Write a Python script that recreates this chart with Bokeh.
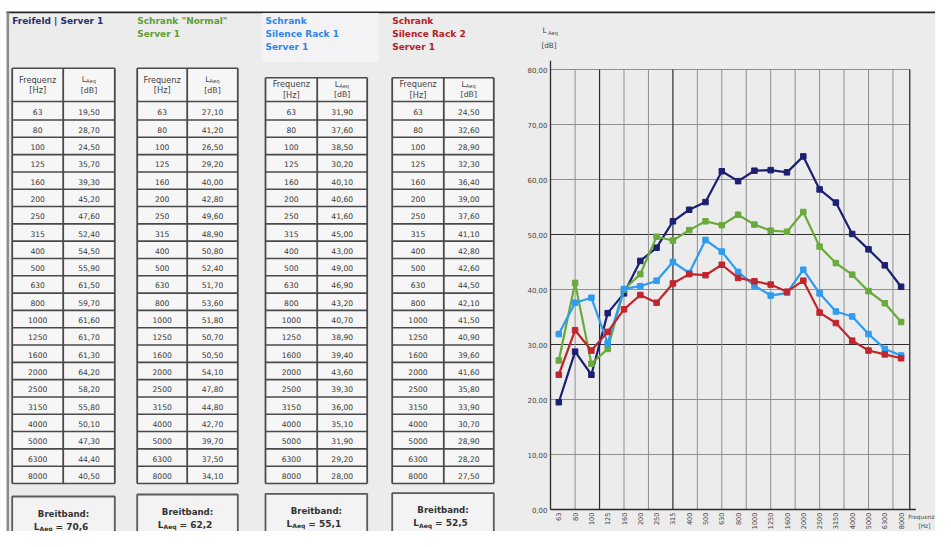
import math
from bokeh.plotting import figure
from bokeh.models import Range1d, FixedTicker
from bokeh.core.properties import value
from bokeh.embed import file_html
from bokeh.resources import INLINE

# ---------------- data ----------------
freqs = ["63", "80", "100", "125", "160", "200", "250", "315", "400", "500", "630",
         "800", "1000", "1250", "1600", "2000", "2500", "3150", "4000", "5000", "6300", "8000"]
freifeld = [19.50, 28.70, 24.50, 35.70, 39.30, 45.20, 47.60, 52.40, 54.50, 55.90, 61.50,
            59.70, 61.60, 61.70, 61.30, 64.20, 58.20, 55.80, 50.10, 47.30, 44.40, 40.50]
normal = [27.10, 41.20, 26.50, 29.20, 40.00, 42.80, 49.60, 48.90, 50.80, 52.40, 51.70,
          53.60, 51.80, 50.70, 50.50, 54.10, 47.80, 44.80, 42.70, 39.70, 37.50, 34.10]
rack1 = [31.90, 37.60, 38.50, 30.20, 40.10, 40.60, 41.60, 45.00, 43.00, 49.00, 46.90,
         43.20, 40.70, 38.90, 39.40, 43.60, 39.30, 36.00, 35.10, 31.90, 29.20, 28.00]
rack2 = [24.50, 32.60, 28.90, 32.30, 36.40, 39.00, 37.60, 41.10, 42.80, 42.60, 44.50,
         42.10, 41.50, 40.90, 39.60, 41.60, 35.80, 33.90, 30.70, 28.90, 28.20, 27.50]
breitband = ["70,6", "62,2", "55,1", "52,5"]
titles = [["Freifeld | Server 1"],
          ['Schrank "Normal"', "Server 1"],
          ["Schrank", "Silence Rack 1", "Server 1"],
          ["Schrank", "Silence Rack 2", "Server 1"]]
y_ticks = [0, 10, 20, 30, 40, 50, 60, 70, 80]
series = [freifeld, normal, rack1, rack2]

# ---------------- styles / layout constants ----------------
FONT = value("DejaVu Sans")
BG = "#ececec"
CELL = "#f6f6f6"
LINE = "#4a4a4a"
series_colors = ["#1c2070", "#6aaa3c", "#2e9cf0", "#c0262c"]
title_colors = ["#26306c", "#5e9e34", "#2f86e6", "#b4202a"]

W, H = 935, 531
SX = 16.3          # px per frequency band
I0 = 558.3         # canvas x of first band
V0 = 509.0         # canvas y of 0 dB
SY = (V0 - 69.0) / 80.0

x_start = -I0 / SX
x_end = (W - I0) / SX
y_start = -(H - V0) / SY
y_end = V0 / SY

p = figure(width=W, height=H, x_range=Range1d(x_start, x_end), y_range=Range1d(y_start, y_end),
           toolbar_location=None, output_backend="svg", min_border=0,
           outline_line_color=None, background_fill_color=BG, border_fill_color=BG)
p.extra_x_ranges = {"px": Range1d(0, W)}
p.extra_y_ranges = {"px": Range1d(H, 0)}
p.xgrid.visible = False
p.ygrid.visible = False

PX = dict(x_range_name="px", y_range_name="px")


def fmt(v):
    return ("%.2f" % v).replace(".", ",")


def txt(x, y, t, size, color="#3a3a3a", align="center", bold=False):
    p.text(x=x, y=y, text=t, text_font=FONT, text_font_size=size, text_color=color,
           text_align=align, text_baseline="middle",
           text_font_style="bold" if bold else "normal", **PX)

# page frame: white margin, top line, left line
p.quad(left=[0], right=[W], top=[0], bottom=[11], color="white", **PX)
p.quad(left=[0], right=[6], top=[0], bottom=[H], color="white", **PX)
p.segment(x0=[6], y0=[11.8], x1=[W], y1=[11.8], line_color="#262626", line_width=1.8, **PX)
p.segment(x0=[7.3], y0=[11.8], x1=[7.3], y1=[H], line_color="#8c8c8c", line_width=2.6, **PX)
p.quad(left=[262], right=[378], top=[13], bottom=[61], color="#f3f3f6", **PX)

# ---------------- tables ----------------
tables_x = [(11.7, 62.7, 114.3), (136.7, 186.7, 237.3), (265.0, 316.7, 366.7), (391.7, 443.3, 493.3)]
header_top = [67.7, 67.7, 77.3, 77.3]
box_top = [496.0, 494.0, 493.3, 492.7]
HEAD_BOT = 101.0
FIRST_BOT = 119.5
TAB_BOT = 483.0
n = len(freqs)
ROW_H = (TAB_BOT - FIRST_BOT) / (n - 1)
row_lines = [HEAD_BOT] + [FIRST_BOT + i * ROW_H for i in range(n)]

for k in range(4):
    x0, xd, x1 = tables_x[k]
    ht = header_top[k]
    vals = series[k]
    for j, t in enumerate(titles[k]):
        txt([x0], [20 + 13.3 * j], [t], "9px", title_colors[k], "left", True)
    p.quad(left=[x0], right=[x1], top=[ht], bottom=[TAB_BOT], fill_color=CELL, line_color=None, **PX)
    ys = [ht] + row_lines
    p.segment(x0=[x0] * len(ys), y0=ys, x1=[x1] * len(ys), y1=ys, line_color=LINE,
              line_width=1.6, **PX)
    p.segment(x0=[x0, xd, x1], y0=[ht] * 3, x1=[x0, xd, x1], y1=[TAB_BOT] * 3,
              line_color=LINE, line_width=1.8, **PX)
    c1 = (x0 + xd) / 2
    c2 = (xd + x1) / 2
    mid = (ht + HEAD_BOT) / 2
    h1 = mid - 5.2
    h2 = mid + 5.2
    txt([c1, c1], [h1, h2], ["Frequenz", "[Hz]"], "8.2px", "#444")
    txt([c2 - 3], [h1], ["L"], "7.8px", "#444", "right")
    txt([c2 - 3], [h1 + 1.8], ["Aeq"], "5.2px", "#444", "left")
    txt([c2], [h2], ["[dB]"], "7.8px", "#444")
    ry = [(row_lines[i] + row_lines[i + 1]) / 2 + 1 for i in range(n)]
    txt([c1] * n, ry, freqs, "7.6px")
    txt([c2] * n, ry, [fmt(v) for v in vals], "7.6px")
    bt = box_top[k]
    p.quad(left=[x0], right=[x1], top=[bt], bottom=[H + 20], fill_color="#f3f3f3",
           line_color="#5a5a5a", line_width=1.8, **PX)
    cx = (x0 + x1) / 2
    txt([cx], [bt + 17], ["Breitband:"], "8.6px", "#333", "center", True)
    txt([cx - 24], [bt + 30], ["L"], "9px", "#333", "right", True)
    txt([cx - 24], [bt + 32], ["Aeq"], "6px", "#333", "left", True)
    txt([cx - 8], [bt + 30], ["= " + breitband[k]], "9px", "#333", "left", True)

# ---------------- chart ----------------
XL = (550.0 - I0) / SX
XR = 21.53
idx = list(range(n))

thin_h = [v for v in y_ticks if v not in (0, 30, 50)]
dark_h = [30, 50]
p.segment(x0=[XL] * len(thin_h), y0=thin_h, x1=[XR] * len(thin_h), y1=thin_h,
          line_color="#8f8f8f", line_width=1)
p.segment(x0=[XL] * len(dark_h), y0=dark_h, x1=[XR] * len(dark_h), y1=dark_h,
          line_color="#2e2e2e", line_width=1.2)
vg = [1 + 1.5 * k for k in range(14)]
dark_v = [2.5, 7.0]
thin_v = [v for v in vg if v not in dark_v]
p.segment(x0=thin_v, y0=[0] * len(thin_v), x1=thin_v, y1=[80] * len(thin_v),
          line_color="#8f8f8f", line_width=1)
p.segment(x0=dark_v, y0=[0] * len(dark_v), x1=dark_v, y1=[80] * len(dark_v),
          line_color="#2e2e2e", line_width=1.2)
p.segment(x0=[XR], y0=[0], x1=[XR], y1=[80], line_color="#2e2e2e", line_width=1.3)
p.segment(x0=[XL], y0=[0], x1=[XL], y1=[81.6], line_color="#2a2a2a", line_width=1.3)
p.segment(x0=[XL], y0=[0], x1=[21.9], y1=[0], line_color="#2a2a2a", line_width=1.3)

for vals, col in zip(series, series_colors):
    p.line(idx, vals, line_color=col, line_width=2.2)
    p.scatter(idx, vals, marker="square", size=5.5, fill_color=col, line_color=col)

p.yaxis.fixed_location = XL
p.xaxis.fixed_location = 0
p.yaxis.ticker = FixedTicker(ticks=y_ticks)
p.yaxis.major_label_overrides = {v: "%d,00" % v for v in y_ticks}
p.xaxis.ticker = FixedTicker(ticks=idx)
p.xaxis.major_label_overrides = {i: f for i, f in zip(idx, freqs)}
p.xaxis.major_label_orientation = math.pi / 2
for ax in (p.xaxis, p.yaxis):
    ax.axis_line_color = None
    ax.major_tick_line_color = None
    ax.minor_tick_line_color = None
    ax.major_tick_out = 0
    ax.major_tick_in = 0
    ax.major_label_text_font = "DejaVu Sans"
    ax.major_label_text_color = "#444"
    ax.major_label_standoff = 3
p.yaxis.major_label_text_font_size = "7px"
p.xaxis.major_label_text_font_size = "6.6px"

txt([542], [30], ["L"], "7.6px", "#444", "left")
txt([547.5], [32], ["Aeq"], "5.2px", "#444", "left")
txt([541], [45], ["[dB]"], "7.2px", "#444", "left")
txt([934], [516], ["Frequenz"], "5.8px", "#444", "right")
txt([918], [525], ["[Hz]"], "5.8px", "#444", "left")

open("out.html", "w").write(file_html(p, INLINE))
